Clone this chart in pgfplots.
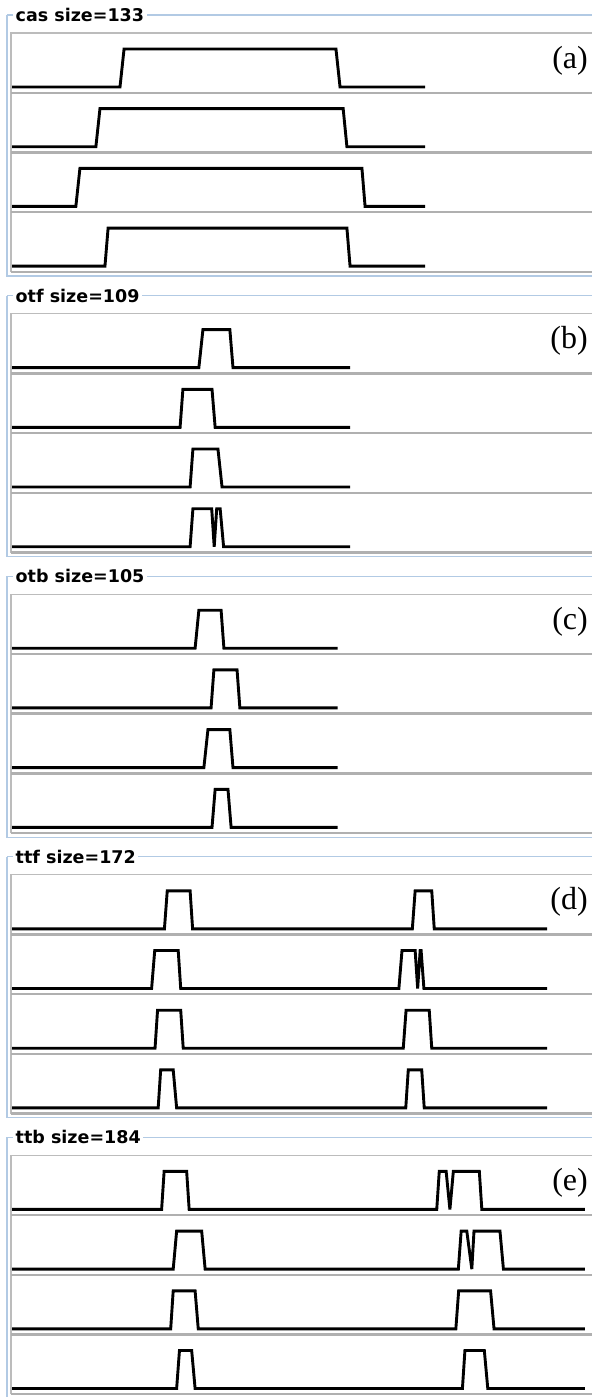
\documentclass[border=0pt]{standalone}
\usepackage{pgfplots}
\pgfplotsset{compat=1.18}
\usepackage{fontspec}
\newfontfamily\titlefont{DejaVu Sans}
\newfontfamily\labelfont{Liberation Serif}
\definecolor{fsblue}{RGB}{178,202,228}
\definecolor{boxgray}{RGB}{188,188,188}
\definecolor{sepgray}{RGB}{176,176,176}

\pgfplotsset{
  rowax/.style={anchor=north west, scale only axis, width=581pt, height=59.7pt,
    xmin=-0.32, xmax=185.3, ymin=-0.15, ymax=1.421, hide axis, clip=false},
  trace/.style={black, line width=2.9pt, line join=miter, line cap=butt, mark=none}
}

\newcommand{\rowplot}[2]{%
  \begin{axis}[rowax, at={(11pt,-#1pt)}]
    \addplot[trace] coordinates {#2};
  \end{axis}}

\newcommand{\panel}[3]{%
  \begin{scope}[x=1pt,y=-1pt]
    \draw[fsblue, line width=1.2pt] (7,{#1-18}) -- (7,{#1+243}) -- (592,{#1+243});
    \draw[fsblue, line width=1.2pt] (7,{#1-18}) -- (592,{#1-18});
    \node[fill=white, anchor=west, inner xsep=2.5pt, inner ysep=1pt,
      font={\titlefont\bfseries\fontsize{17.5}{19}\selectfont}] at (13,{#1-18}) {#2};
    \draw[boxgray, line width=1.3pt] (11,{#1+239}) -- (11,#1) -- (592,#1);
    \foreach \k in {1,2,3,4} \draw[sepgray, line width=2.4pt] (11,{#1+59.7*\k}) -- (592,{#1+59.7*\k});
    \node[anchor=base east, inner sep=0pt,
      font={\labelfont\fontsize{32}{34}\selectfont}] at (588,{#1+35}) {#3};
  \end{scope}}

\begin{document}
\begin{tikzpicture}
\useasboundingbox (0,0) rectangle (592pt,-1397pt);
\clip (0,0) rectangle (592pt,-1397pt);
\fill[white] (0,0) rectangle (592pt,-1397pt);

\panel{33}{cas size=133}{(a)}
\panel{313.6}{otf size=109}{(b)}
\panel{594.2}{otb size=105}{(c)}
\panel{874.8}{ttf size=172}{(d)}
\panel{1155.4}{ttb size=184}{(e)}

% (a) cas
\rowplot{33}{(0,0)(34.5,0)(35.8,1)(103.5,1)(104.8,0)(132,0)}
\rowplot{92.7}{(0,0)(26.8,0)(28.1,1)(105.8,1)(107,0)(132,0)}
\rowplot{152.4}{(0,0)(20.4,0)(21.7,1)(111.8,1)(112.8,0)(132,0)}
\rowplot{212.1}{(0,0)(29.7,0)(30.7,1)(107,1)(108,0)(132,0)}

% (b) otf
\rowplot{313.6}{(0,0)(59.7,0)(61,1)(69.6,1)(70.6,0)(108,0)}
\rowplot{373.3}{(0,0)(53.7,0)(54.6,1)(63.9,1)(64.9,0)(108,0)}
\rowplot{433.0}{(0,0)(56.9,0)(57.8,1)(65.8,1)(67.1,0)(108,0)}
\rowplot{492.7}{(0,0)(56.9,0)(57.8,1)(63.8,1)(64.6,0)(65.4,1)(66.5,1)(67.6,0)(108,0)}

% (c) otb
\rowplot{594.2}{(0,0)(58.5,0)(59.7,1)(66.8,1)(67.7,0)(104,0)}
\rowplot{653.9}{(0,0)(63.6,0)(64.5,1)(71.9,1)(72.8,0)(104,0)}
\rowplot{713.6}{(0,0)(61.3,0)(62.6,1)(69.6,1)(70.6,0)(104,0)}
\rowplot{773.3}{(0,0)(63.9,0)(64.9,1)(69,1)(70,0)(104,0)}

% (d) ttf
\rowplot{874.8}{(0,0)(48.7,0)(49.6,1)(56.9,1)(57.7,0)(127.9,0)(128.8,1)(134.1,1)(134.9,0)(171,0)}
\rowplot{934.5}{(0,0)(44.6,0)(45.6,1)(53.1,1)(53.9,0)(123.6,0)(124.6,1)(128.8,1)(129.6,0)(130.4,1)(130.7,1)(131.6,0)(171,0)}
\rowplot{994.2}{(0,0)(45.7,0)(46.5,1)(53.9,1)(54.7,0)(125,0)(125.9,1)(133.3,1)(134.1,0)(171,0)}
\rowplot{1053.9}{(0,0)(46.7,0)(47.5,1)(51.5,1)(52.6,0)(125.8,0)(126.6,1)(130.9,1)(131.7,0)(171,0)}

% (e) ttb
\rowplot{1155.4}{(0,0)(47.8,0)(48.6,1)(55.8,1)(56.6,0)(135.7,0)(136.5,1)(138.7,1)(139.9,0)(141,1)(149.3,1)(150.1,0)(183,0)}
\rowplot{1215.1}{(0,0)(51.5,0)(52.6,1)(60.6,1)(61.7,0)(142.6,0)(143.5,1)(145.3,1)(146.9,0)(147.6,1)(155.9,1)(157,0)(183,0)}
\rowplot{1274.8}{(0,0)(50.7,0)(51.5,1)(58.5,1)(59.5,0)(141.8,0)(142.7,1)(152.9,1)(154,0)(183,0)}
\rowplot{1334.5}{(0,0)(52.6,0)(53.5,1)(57.4,1)(58.5,0)(143.9,0)(144.7,1)(150.9,1)(152,0)(183,0)}
\end{tikzpicture}
\end{document}
